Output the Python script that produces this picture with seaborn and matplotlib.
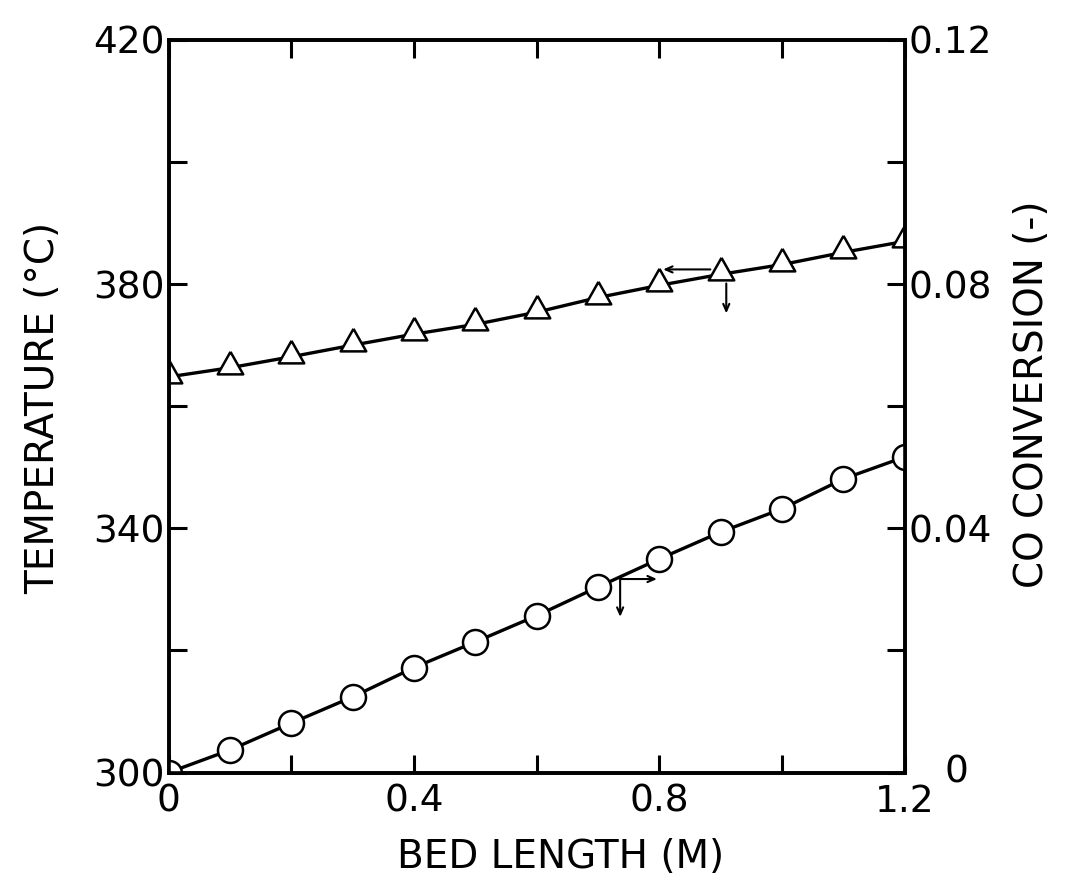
import matplotlib
matplotlib.use("Agg")
import matplotlib.pyplot as plt
import matplotlib.transforms as mtransforms
import seaborn as sns
from matplotlib.ticker import MultipleLocator, FuncFormatter

# ---- data ----
bed_length = [0.0, 0.1, 0.2, 0.3, 0.4, 0.5, 0.6, 0.7, 0.8, 0.9, 1.0, 1.1, 1.2]
temperature = [364.8, 366.3, 368.1, 370.0, 371.8, 373.4, 375.4, 377.8, 379.8, 381.6, 383.2, 385.2, 387.0]
co_conversion = [0.0, 0.0037, 0.0081, 0.0124, 0.0172, 0.0214, 0.0257, 0.0304, 0.0350, 0.0394, 0.0432, 0.0481, 0.0517]

x_label = "BED LENGTH (M)"
y_left_label = "TEMPERATURE (°C)"
y_right_label = "CO CONVERSION (-)"

sns.set_style("ticks")
plt.rcParams['font.family'] = ['DejaVu Sans']
plt.rcParams['text.color'] = 'black'
plt.rcParams['axes.labelcolor'] = 'black'

fig = plt.figure(figsize=(10.67, 8.85), dpi=100)
ax = fig.add_axes([0.158, 0.127, 0.69, 0.828])
ax2 = ax.twinx()

# triangle marker whose centroid sits on the curve
tri = [(0, 17), (-13, -6), (13, -6), (0, 17)]

sns.lineplot(x=bed_length, y=temperature, ax=ax, color="black", linewidth=2.4,
             marker=tri, markersize=24, markerfacecolor="white",
             markeredgecolor="black", markeredgewidth=1.8)
sns.lineplot(x=bed_length, y=co_conversion, ax=ax2, color="black", linewidth=2.4,
             marker="o", markersize=18, markerfacecolor="white",
             markeredgecolor="black", markeredgewidth=1.8)

ax.set_xlim(0, 1.2)
ax.set_ylim(300, 420)
ax2.set_ylim(0, 0.12)


def every_other(step, origin=0.0):
    def f(v, p):
        q = (v - origin) / step
        if abs(q - round(q)) < 1e-6:
            return f"{v:g}"
        return ""
    return FuncFormatter(f)


ax.xaxis.set_major_locator(MultipleLocator(0.2))
ax.xaxis.set_major_formatter(every_other(0.4))
ax.yaxis.set_major_locator(MultipleLocator(20))
ax.yaxis.set_major_formatter(every_other(40, 300))
ax2.yaxis.set_major_locator(MultipleLocator(0.02))
ax2.yaxis.set_major_formatter(every_other(0.04))

ax.tick_params(axis="x", direction="in", length=13, width=2.2, top=True,
               labelsize=27, pad=8, colors="black")
ax.tick_params(axis="y", direction="in", length=13, width=2.2, right=False,
               labelsize=27, pad=3, colors="black")
ax2.tick_params(axis="y", direction="in", length=13, width=2.2, left=False,
                labelsize=27, pad=3, colors="black")

for a in (ax, ax2):
    for s in a.spines.values():
        s.set_linewidth(2.6)
        s.set_color("black")

ax.set_xlabel(x_label, fontsize=28, color="black")
ax.set_ylabel(y_left_label, fontsize=28, color="black")
ax2.set_ylabel(y_right_label, fontsize=28, color="black")
ax.xaxis.set_label_coords(0.532, -0.089)
ax.yaxis.set_label_coords(-0.145, 0.497)
ax2.yaxis.set_label_coords(1.147, 0.516)

arrow = dict(arrowstyle="->,head_length=0.5,head_width=0.22", lw=1.5, color="black",
             shrinkA=0, shrinkB=0)
# arrows marking which axis each curve belongs to
ax.annotate("", xy=(0.806, 382.4), xytext=(0.883, 382.4), arrowprops=arrow)
ax.annotate("", xy=(0.909, 375.2), xytext=(0.909, 380.1), arrowprops=arrow)
ax2.annotate("", xy=(0.796, 0.0317), xytext=(0.736, 0.0317), arrowprops=arrow)
ax2.annotate("", xy=(0.736, 0.0255), xytext=(0.736, 0.0317), arrowprops=arrow)

# shift the right-axis "0" label away from the "1.2" x label, as in the reference
fig.canvas.draw()
for lab in ax2.get_yticklabels():
    if lab.get_text() == "0":
        lab.set_transform(lab.get_transform() +
                          mtransforms.ScaledTranslation(0.36, 0.04, fig.dpi_scale_trans))

fig.savefig("out.png", dpi=100)
